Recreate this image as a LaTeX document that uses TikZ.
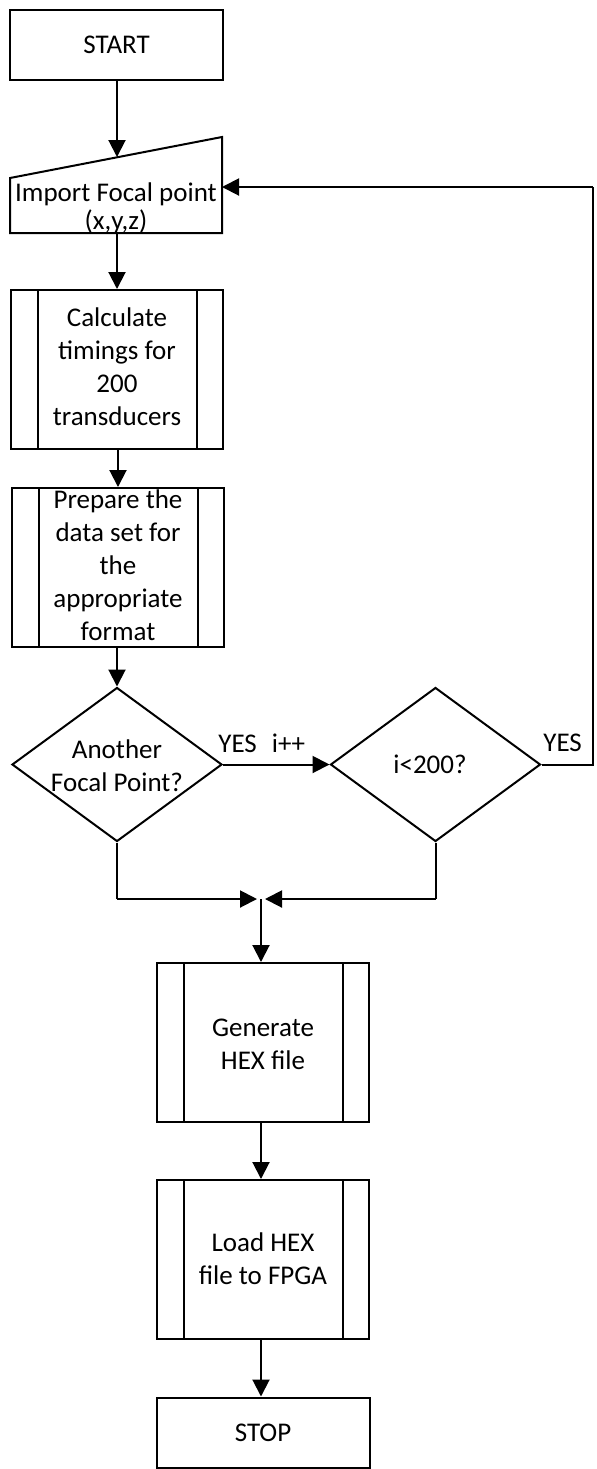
\documentclass[tikz,border=0pt]{standalone}
\usepackage{fontspec}
\setmainfont{Carlito}
\usetikzlibrary{shapes.geometric,arrows.meta}

\begin{document}
\begin{tikzpicture}[x=0.5pt,y=-0.5pt,
  txt/.style={align=center, inner sep=0pt, font=\fontsize{13.5}{16.5}\selectfont},
  frame/.style={draw, line width=1pt, inner sep=0pt},
  termbox/.style={frame, rectangle, minimum width=106.5pt, minimum height=35pt, txt},
  procbox/.style={frame, rectangle, minimum width=106pt, minimum height=79.5pt,
    path picture={
      \draw[line width=1pt] ([xshift=13.5pt]path picture bounding box.north west) -- ([xshift=13.5pt]path picture bounding box.south west);
      \draw[line width=1pt] ([xshift=-13pt]path picture bounding box.north east) -- ([xshift=-13pt]path picture bounding box.south east);
    }},
  decision/.style={frame, diamond, minimum width=105pt, minimum height=77pt},
  conn/.style={line width=1pt, -{Triangle[length=8.5pt,width=8.5pt]}},
  line/.style={line width=1pt}]

\useasboundingbox (0,0) rectangle (597,1469);

% terminal and input blocks
\node[termbox] (start) at (116.5,45) {START};

\coordinate (impTL) at (10,178);
\coordinate (impTR) at (222,137);
\coordinate (impBR) at (222,233);
\coordinate (impBL) at (10,233);
\draw[line] (impTL) -- (impTR) -- (impBR) -- (impBL) -- cycle;
\node[txt, font=\fontsize{13.5}{14}\selectfont] (imp) at (116,208) {Import Focal point\\(x,y,z)};
\coordinate (impIn) at (117,157);
\coordinate (impSide) at (222,187);
\coordinate (impOut) at (117,233);

% predefined processes
\node[procbox] (calc) at (116.5,369.5) {};
\node[txt] (calcT) at (117,367) {Calculate\\timings for\\200\\transducers};

\node[procbox] (prep) at (118,567.5) {};
\node[txt] (prepT) at (118,565) {Prepare the\\data set for\\the\\appropriate\\format};

% decisions
\node[decision] (d1) at (117,764.5) {};
\node[txt] (d1T) at (117,766) {Another\\Focal Point?};
\node[decision] (d2) at (435.5,764.5) {};
\node[txt] (d2T) at (430,764) {i{<}200?};

\node[txt, anchor=west] (yes1) at (218,743) {YES\hspace{7.5pt}i++};
\node[txt, anchor=west] (yes2) at (543,743) {YES};

\node[procbox] (gen) at (263,1042.5) {};
\node[txt] (genT) at (263,1044) {Generate\\HEX file};

\node[procbox] (load) at (263,1259.5) {};
\node[txt] (loadT) at (263,1259) {Load HEX\\file to FPGA};

\node[termbox] (stop) at (263,1432.5) {STOP};

% routing points
\coordinate (loopR) at (593,764.5);
\coordinate (loopT) at (593,187);
\coordinate (mL) at (117,899);
\coordinate (mR) at (435.5,899);
\coordinate (join) at (261,899);
\coordinate (joinL) at (257,899);
\coordinate (joinR) at (265,899);

% connectors
\draw[conn] (start.south -| impIn) -- (impIn);
\draw[conn] (impOut) -- (impOut |- calc.north);
\draw[conn] (calc.south -| prep.north) -- (prep.north);
\draw[conn] (prep.south -| d1.north) -- (d1.north);
\draw[conn] (d1.east) -- (d2.west);
\draw[line] (d2.east) -- (loopR) -- (loopT);
\draw[conn] (loopT) -- (impSide);
\draw[line] (d1.south) -- (mL);
\draw[conn] (mL) -- (joinL);
\draw[line] (d2.south) -- (mR);
\draw[conn] (mR) -- (joinR);
\draw[conn] (join) -- (join |- gen.north);
\draw[conn] (gen.south -| join) -- (load.north -| join);
\draw[conn] (load.south -| join) -- (stop.north -| join);
\end{tikzpicture}
\end{document}
